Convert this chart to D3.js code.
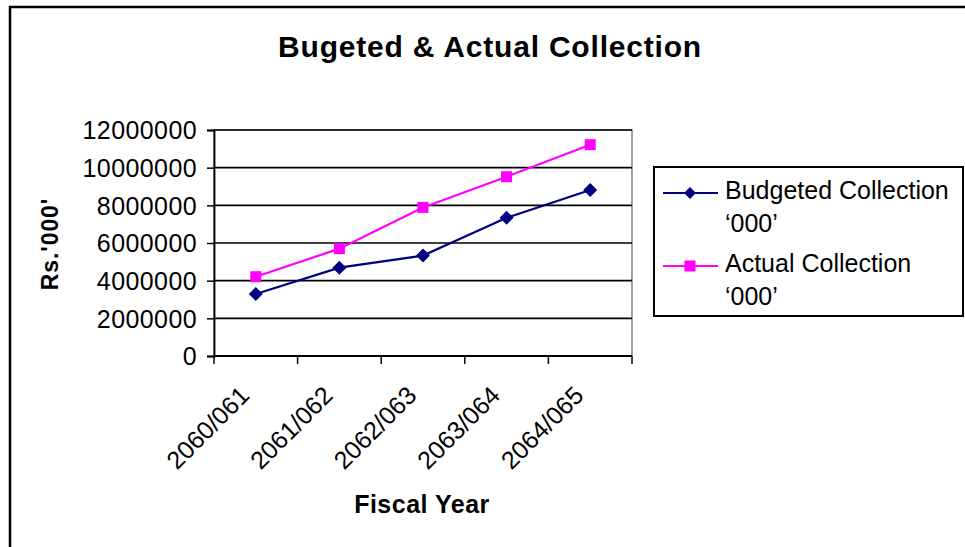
<!DOCTYPE html>
<html><head><meta charset="utf-8">
<script src="https://cdn.jsdelivr.net/npm/d3@7"></script>
<style>html,body{margin:0;padding:0;background:#fff;}svg{display:block;}</style>
</head><body>
<svg id="chart" width="965" height="547"></svg>
<script>
const categories = ["2060/061","2061/062","2062/063","2063/064","2064/065"];
const budgeted = [3290000, 4690000, 5330000, 7340000, 8810000];
const actual = [4210000, 5700000, 7890000, 9520000, 11220000];
const yTicks = [0,2000000,4000000,6000000,8000000,10000000,12000000];
const seriesNames = ["Budgeted Collection", "Actual Collection"];
const titleText = "Bugeted & Actual Collection";
const xTitle = "Fiscal Year";
const yTitle = "Rs.'000'";

const svg = d3.select("#chart");
const font = "'Liberation Sans', Arial, sans-serif";
const L = 214, R = 632, T = 130, B = 356;

svg.append("rect").attr("x",10).attr("y",7).attr("width",980).attr("height",600)
  .attr("fill","#fff").attr("stroke","#000").attr("stroke-width",2.5);

const x = d3.scaleBand().domain(categories).range([L,R]).padding(0);
const y = d3.scaleLinear().domain([0,12000000]).range([B,T]);

// plot border
svg.append("rect").attr("x",L).attr("y",T).attr("width",R-L).attr("height",B-T)
  .attr("fill","none").attr("stroke","#808080").attr("stroke-width",1.5);

// gridlines
svg.append("g").selectAll("line").data(yTicks.filter(d=>d>0)).join("line")
  .attr("x1",L).attr("x2",R).attr("y1",d=>y(d)).attr("y2",d=>y(d))
  .attr("stroke","#000").attr("stroke-width",1.6);

// y axis
const yAxis = svg.append("g").attr("transform",`translate(${L},0)`)
  .call(d3.axisLeft(y).tickValues(yTicks).tickFormat(d3.format("d")).tickSizeOuter(0).tickSize(7).tickPadding(10));
yAxis.select(".domain").attr("stroke","#000").attr("stroke-width",1.8);
yAxis.selectAll(".tick line").attr("stroke","#000").attr("stroke-width",1.5);
yAxis.selectAll("text").attr("font-family",font).attr("font-size",25).attr("letter-spacing","0.4px").attr("fill","#000").attr("dy","0.35em");

// x axis with ticks at boundaries
const xAxisG = svg.append("g");
xAxisG.append("line").attr("x1",L).attr("x2",R).attr("y1",B).attr("y2",B).attr("stroke","#000").attr("stroke-width",1.8);
const bounds = categories.map(c=>x(c)).concat([x(categories[categories.length-1])+x.bandwidth()]);
xAxisG.selectAll("line.t").data(bounds).join("line").attr("class","t")
  .attr("x1",d=>d).attr("x2",d=>d).attr("y1",B).attr("y2",B+8).attr("stroke","#000").attr("stroke-width",1.5);
xAxisG.selectAll("text").data(categories).join("text")
  .attr("transform",d=>`translate(${x(d)+x.bandwidth()/2-5},${397}) rotate(-45)`)
  .attr("text-anchor","end").attr("font-family",font).attr("font-size",25).attr("fill","#000")
  .text(d=>d);

// lines
const line = d3.line().x((d,i)=>x(categories[i])+x.bandwidth()/2).y(d=>y(d));
svg.append("path").datum(budgeted).attr("d",line).attr("fill","none").attr("stroke","#000080").attr("stroke-width",2.2);
svg.append("path").datum(actual).attr("d",line).attr("fill","none").attr("stroke","#FF00FF").attr("stroke-width",2.2);

const diamond = s => `M0,${-s}L${s},0L0,${s}L${-s},0Z`;
svg.append("g").selectAll("path").data(budgeted).join("path")
  .attr("transform",(d,i)=>`translate(${x(categories[i])+x.bandwidth()/2},${y(d)})`)
  .attr("d",diamond(7)).attr("fill","#000080");
svg.append("g").selectAll("rect").data(actual).join("rect")
  .attr("x",(d,i)=>x(categories[i])+x.bandwidth()/2-5.5).attr("y",d=>y(d)-5.5)
  .attr("width",11).attr("height",11).attr("fill","#FF00FF");

// titles
svg.append("text").attr("x",490).attr("y",57).attr("text-anchor","middle")
  .attr("font-family",font).attr("font-weight","bold").attr("font-size",30).attr("letter-spacing","0.8px")
  .text(titleText);
svg.append("text").attr("x",422).attr("y",513).attr("text-anchor","middle")
  .attr("font-family",font).attr("font-weight","bold").attr("font-size",25).attr("letter-spacing","0.5px")
  .text(xTitle);
svg.append("text").attr("transform","translate(58,244) rotate(-90)").attr("text-anchor","middle")
  .attr("font-family",font).attr("font-weight","bold").attr("font-size",23).attr("letter-spacing","0.9px")
  .text(yTitle);

// legend
const lg = svg.append("g");
lg.append("rect").attr("x",654).attr("y",167).attr("width",309).attr("height",149)
  .attr("fill","#fff").attr("stroke","#000").attr("stroke-width",2);
const legendRows = [
  {name: seriesNames[0], color:"#000080", marker:"diamond", y:193},
  {name: seriesNames[1], color:"#FF00FF", marker:"square", y:266}
];
legendRows.forEach(r=>{
  lg.append("line").attr("x1",663).attr("x2",718).attr("y1",r.y).attr("y2",r.y).attr("stroke",r.color).attr("stroke-width",2);
  if(r.marker==="diamond") lg.append("path").attr("transform",`translate(690,${r.y})`).attr("d",diamond(6)).attr("fill",r.color);
  else lg.append("rect").attr("x",684.5).attr("y",r.y-5.5).attr("width",11).attr("height",11).attr("fill",r.color);
  const t = lg.append("text").attr("font-family",font).attr("font-size",25).attr("fill","#000");
  t.append("tspan").attr("x",725).attr("y",r.y+6).text(r.name);
  t.append("tspan").attr("x",725).attr("y",r.y+39).text("\u2018000\u2019");
});
</script>
</body></html>
